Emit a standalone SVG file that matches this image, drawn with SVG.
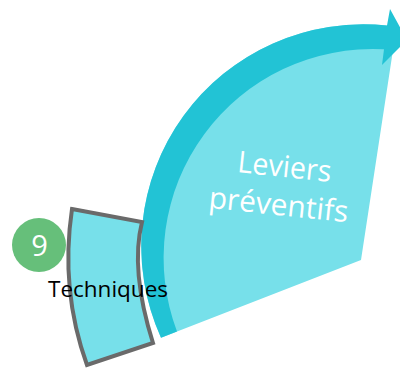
<svg xmlns="http://www.w3.org/2000/svg" width="400" height="369" viewBox="0 0 400 369">
  <style>
    .light { fill: #77E0EA; }
    .dark { fill: #22C3D5; }
    .box { fill: #77E0EA; stroke: #6A6A6A; stroke-width: 4; stroke-linejoin: miter; }
    .lbl { font-family: "Open Sans", "Noto Sans", "Liberation Sans", sans-serif; }
  </style>
  <rect width="400" height="369" fill="#FFFFFF"/>
  <g id="leviers-preventifs">
    <path class="light" d="M 361,260 L 161,337.8 A 222 222 0 0 1 387,25.5 L 393,50 Z"/>
    <path class="dark" d="M 161,337.8 A 222 222 0 0 1 387,25.5 L 390,9 L 407,40 L 382,65 L 384,49.3 A 209 209 0 0 0 177,331.6 Z"/>
    <text class="lbl" transform="translate(283.5,177) rotate(6)" text-anchor="middle" font-size="30" fill="#FFFFFF" textLength="94" lengthAdjust="spacingAndGlyphs">Leviers</text>
    <text class="lbl" transform="translate(277.5,215) rotate(6)" text-anchor="middle" font-size="30" fill="#FFFFFF" textLength="140" lengthAdjust="spacingAndGlyphs">préventifs</text>
  </g>
  <g id="techniques">
    <path class="box" d="M 72,209 L 142,222 Q 130,270 153,343 L 87,365 Q 60,290 72,209 Z"/>
  </g>
  <g id="badge-9">
    <circle cx="39" cy="245" r="27" fill="#66BF7A"/>
    <text class="lbl" x="39.5" y="256" text-anchor="middle" font-size="29" fill="#FFFFFF">9</text>
  </g>
  <g id="techniques-label">
    <text class="lbl" x="48" y="297" font-size="21" fill="#000000" textLength="120" lengthAdjust="spacingAndGlyphs">Techniques</text>
  </g>
  <g id="connectors"></g>
</svg>
